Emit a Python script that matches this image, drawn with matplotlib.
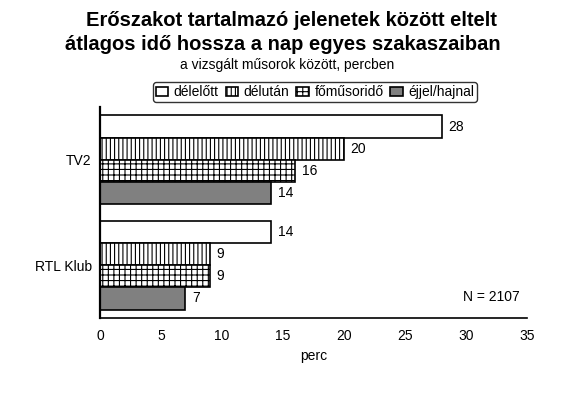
import matplotlib
matplotlib.use("Agg")
import matplotlib.pyplot as plt
import numpy as np

plt.rcParams['font.family'] = ['Liberation Sans', 'DejaVu Sans']
plt.rcParams['hatch.linewidth'] = 0.8

categories = ["TV2", "RTL Klub"]
series = ["délelőtt", "délután", "főműsoridő", "éjjel/hajnal"]
values = {
    "délelőtt": [28, 14],
    "délután": [20, 9],
    "főműsoridő": [16, 9],
    "éjjel/hajnal": [14, 7],
}
xticks = [0, 5, 10, 15, 20, 25, 30, 35]

colors = ["white", "white", "white", "#808080"]
hatches = [None, "||||", "+++", None]

fig = plt.figure(figsize=(5.7, 3.98), dpi=100)
ax = fig.add_axes([100/570, 1-318/398, 427/570, 211/398])

bh = 0.21
y0 = np.arange(len(categories))
for i, s in enumerate(series):
    ys = y0 - 1.5*bh + i*bh
    ax.barh(ys, values[s], height=bh, color=colors[i], edgecolor="black",
            hatch=hatches[i], linewidth=1.2, label=s)
    for y, v in zip(ys, values[s]):
        ax.text(v + 0.55, y, f"{v}", va="center", ha="left", fontsize=10)

ax.set_ylim(1.5, -0.5)
ax.set_xlim(0, 35)
ax.set_xticks(xticks)
ax.set_yticks(y0)
ax.set_yticklabels(categories, fontsize=10)
ax.tick_params(axis="both", length=0, labelsize=10)
ax.tick_params(axis="x", pad=8)
ax.tick_params(axis="y", pad=6)
for sp in ["top", "right"]:
    ax.spines[sp].set_visible(False)
ax.spines["left"].set_linewidth(1.6)
ax.spines["bottom"].set_linewidth(1.2)
ax.set_xlabel("perc", fontsize=10, labelpad=4)

ax.text(0.984, 0.10, "N = 2107", transform=ax.transAxes, ha="right", va="center", fontsize=10)

fig.text(291.5/570, 1-20/398, "Erőszakot tartalmazó jelenetek között eltelt", ha="center", va="center",
         fontsize=14.5, fontweight="bold")
fig.text(283/570, 1-44/398, "átlagos idő hossza a nap egyes szakaszaiban", ha="center", va="center",
         fontsize=14.5, fontweight="bold")
fig.text(287/570, 1-65/398, "a vizsgált műsorok között, percben", ha="center", va="center", fontsize=10)

leg = fig.legend(loc="center", bbox_to_anchor=(315/570, 1-92/398), ncol=4, fontsize=10,
                 frameon=True, fancybox=True, handlelength=0.9, handleheight=0.6,
                 handletextpad=0.4, columnspacing=0.5, borderpad=0.2, borderaxespad=0,
                 edgecolor="black")
leg.get_frame().set_linewidth(1.0)

fig.savefig("out.png", dpi=100)
